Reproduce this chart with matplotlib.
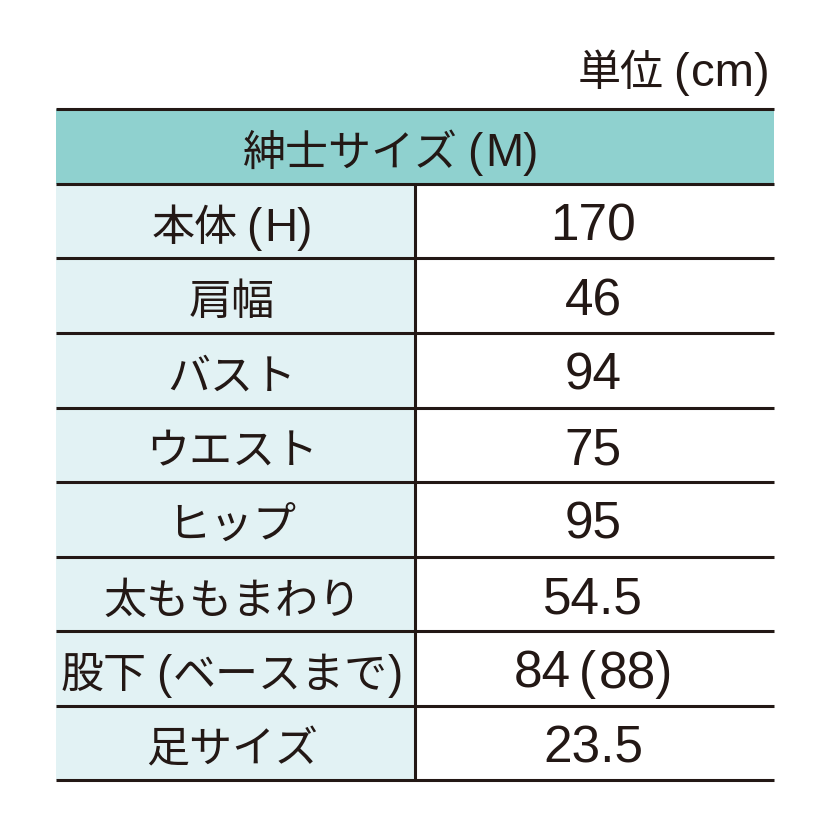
import matplotlib
matplotlib.use("Agg")
import matplotlib.pyplot as plt
from matplotlib.patches import Rectangle

unit_label = "単位(cm)"
header = "紳士サイズ(M)"
labels = ["本体(H)", "肩幅", "バスト", "ウエスト", "ヒップ", "太ももまわり", "股下(ベースまで)", "足サイズ"]
values = ["170", "46", "94", "75", "95", "54.5", "84(88)", "23.5"]

W = 830
fig = plt.figure(figsize=(8.3, 8.3), dpi=100)
ax = fig.add_axes([0, 0, 1, 1])
ax.set_xlim(0, W)
ax.set_ylim(W, 0)
ax.axis('off')
renderer = fig.canvas.get_renderer()

text_c = "#231815"
teal = "#8fd1cf"
light = "#e2f2f4"
CJK_FONT = 'Noto Sans CJK JP'
LAT_FONT = 'Liberation Sans'


def pieces_of(s):
    out = []
    for ch in s:
        lat = ord(ch) < 0x2000
        if out and out[-1][1] == lat and ch != '(' and out[-1][0] != '(':
            out[-1][0] += ch
        else:
            out.append([ch, lat])
    return out


def gap(prev, cur):
    ptxt, plat = prev
    ctxt, clat = cur
    if ctxt.startswith('('):
        return 8 if plat else 9
    if ptxt == '(' and not clat:
        return 2
    if ctxt.startswith(')') and not plat:
        return 0
    return 3


def draw_mixed(x, baseline, s, cjk_size, lat_size, ha='center'):
    items = []
    for txt, lat in pieces_of(s):
        t = ax.text(0, baseline, txt, ha='left', va='baseline', color=text_c,
                    family=LAT_FONT if lat else CJK_FONT,
                    fontsize=lat_size if lat else cjk_size)
        w = t.get_window_extent(renderer).width
        items.append((t, w, txt, lat))
    total = 0
    gaps = []
    for i, (t, w, txt, lat) in enumerate(items):
        g = 0 if i == 0 else gap(items[i - 1][2:], (txt, lat))
        gaps.append(g)
        total += g + w
    if ha == 'center':
        cur = x - total / 2
    elif ha == 'right':
        cur = x - total
    else:
        cur = x
    for (t, w, txt, lat), g in zip(items, gaps):
        cur += g
        t.set_x(cur)
        cur += w


left, right, mid = 56, 774, 415
top, head_h, row_h = 109, 75, 74.5
BASE_OFF = 19.5

draw_mixed(770, 86, unit_label, 31, 34, ha='right')

ax.add_patch(Rectangle((left, top), right - left, head_h, facecolor=teal, edgecolor='none'))
draw_mixed(391, top + head_h / 2 + BASE_OFF, header, 31, 33)

y0 = top + head_h
n = len(labels)
ax.add_patch(Rectangle((left, y0), mid - left, row_h * n, facecolor=light, edgecolor='none'))
for i, (lab, val) in enumerate(zip(labels, values)):
    yc = y0 + row_h * (i + 0.5)
    draw_mixed(232, yc + BASE_OFF, lab, 31, 33)
    draw_mixed(593, yc + BASE_OFF, val, 31, 37)

for k in range(n + 2):
    y = top if k == 0 else y0 + row_h * (k - 1)
    ax.plot([left, right], [y, y], color=text_c, lw=2.2, solid_capstyle='butt')
ax.plot([mid, mid], [y0, y0 + row_h * n], color=text_c, lw=2.2, solid_capstyle='butt')

fig.savefig("out.png", dpi=100, facecolor='white')
